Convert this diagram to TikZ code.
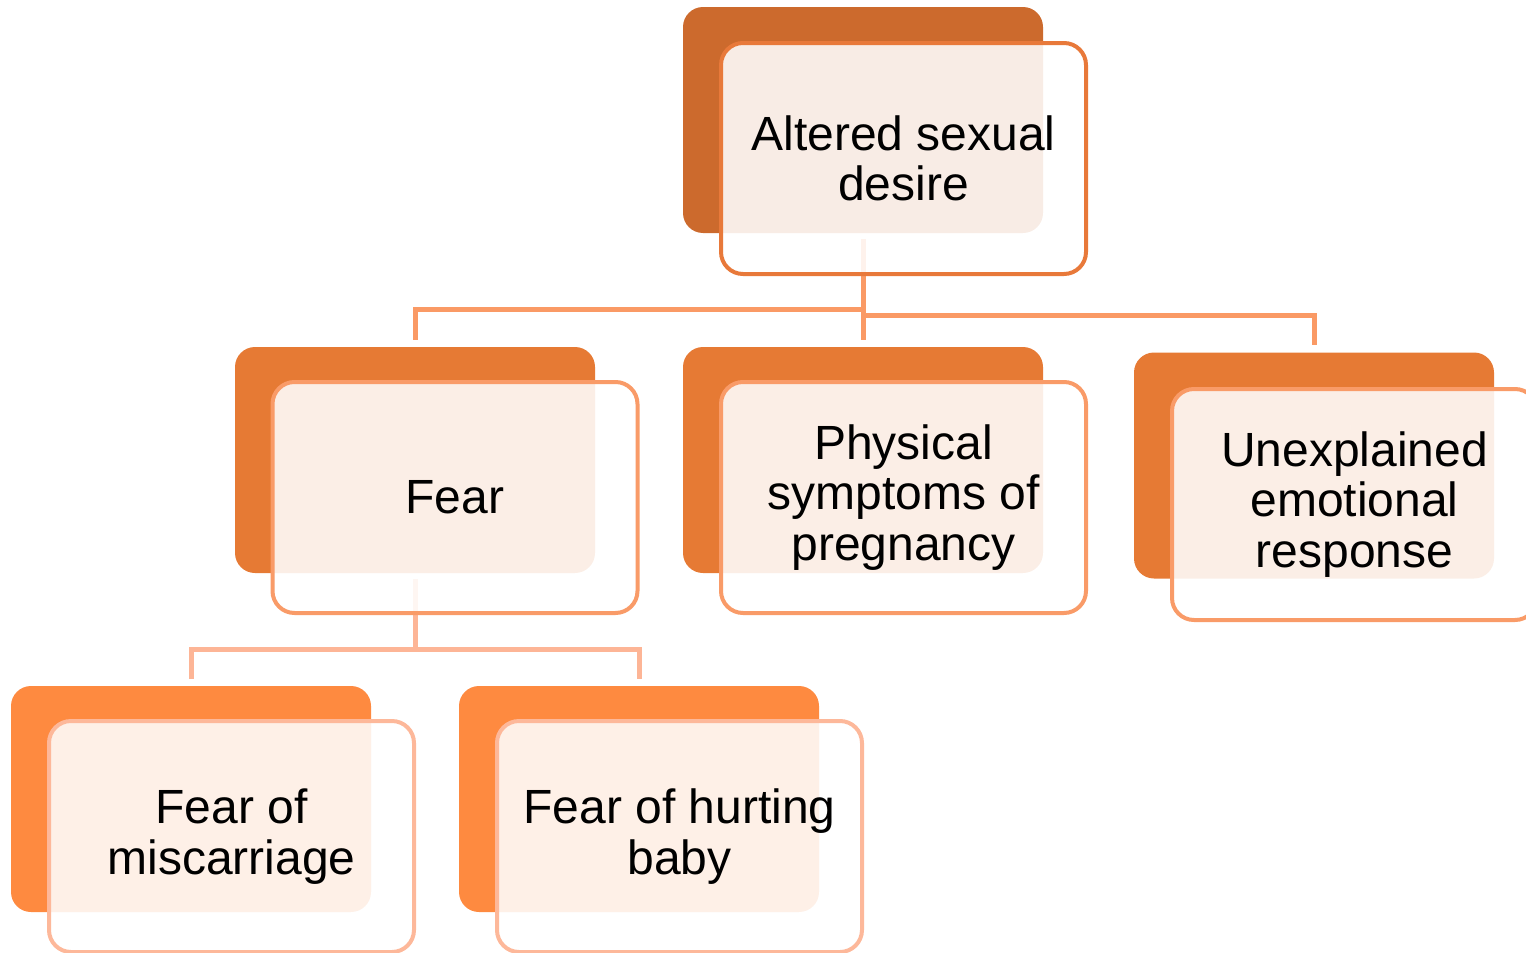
\documentclass[tikz,border=0pt]{standalone}
\usepackage{fontspec}
\setmainfont{Liberation Sans}
\begin{document}
\begin{tikzpicture}[x=1pt,y=-1pt,
  backbox/.style={rectangle,rounded corners=20pt,minimum width=360pt,minimum height=226pt,inner sep=0pt},
  frontbox/.style={rectangle,rounded corners=22pt,minimum width=365pt,minimum height=231pt,inner sep=0pt,
     line width=4pt,fill=white,fill opacity=0.88,text opacity=1,align=center,
     font=\fontsize{48}{50.5}\selectfont},
  connA/.style={line width=5pt,draw=connAcol,shorten >=7pt,shorten <=6pt},
  connB/.style={line width=5pt,draw=connBcol,shorten >=7pt,shorten <=6pt},
  connC/.style={line width=5pt,draw=connAcol,shorten >=7pt},
  connD/.style={line width=5pt,draw=connBcol,shorten >=7pt}
]
\definecolor{topback}{HTML}{CC6A2D}
\definecolor{topline}{HTML}{E8793A}
\definecolor{midback}{HTML}{E67A34}
\definecolor{midline}{HTML}{F99B68}
\definecolor{lowback}{HTML}{FE8A40}
\definecolor{lowline}{HTML}{FDB89A}
\definecolor{connAcol}{HTML}{FA9A65}
\definecolor{connBcol}{HTML}{FDB596}
\useasboundingbox (0,0) rectangle (1526,953);
\clip (0,0) rectangle (1526,953);

% back boxes
\node[backbox,fill=topback] (topb) at (863,120) {};
\node[backbox,fill=midback] (fearb) at (415,460) {};
\node[backbox,fill=midback] (physb) at (863,460) {};
\node[backbox,fill=midback] (unexb) at (1314,465.5) {};
\node[backbox,fill=lowback] (miscb) at (191,799) {};
\node[backbox,fill=lowback] (hurtb) at (639,799) {};

% connectors
\draw[connA] (topb.south) -- (physb.north);
\draw[connA] (topb.south) -- (topb.south |- 0,309) -| (fearb.north);
\draw[connC] (topb.south |- 0,309) -- (topb.south |- 0,315) -| (unexb.north);
\draw[connB] (fearb.south) -- (fearb.south |- 0,649) -| (miscb.north);
\draw[connD] (fearb.south |- 0,649) -| (hurtb.north);

% front boxes
\node[frontbox,draw=topline] (topf) at (903.5,158.5) {Altered sexual\\desire};
\node[frontbox,draw=midline] (fearf) at (455,497.5) {Fear};
\node[frontbox,draw=midline] (physf) at (903.5,497.5) {Physical\\symptoms of\\pregnancy};
\node[frontbox,draw=midline] (unexf) at (1354.5,504.5) {Unexplained\\emotional\\response};
\node[frontbox,draw=lowline] (miscf) at (231.5,836.5) {Fear of\\miscarriage};
\node[frontbox,draw=lowline] (hurtf) at (679.5,836.5) {Fear of hurting\\baby};
\end{tikzpicture}
\end{document}
